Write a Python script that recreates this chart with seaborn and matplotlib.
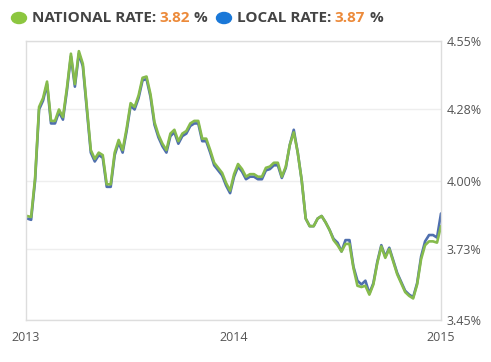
import pandas as pd
import numpy as np
import matplotlib.pyplot as plt
import matplotlib.dates as mdates
import seaborn as sns

sns.set_style("white")
plt.rcParams['font.family'] = ['Open Sans', 'DejaVu Sans']

# weekly rates, Jan 2013 - Jan 2015
national = [3.86, 3.856, 4.01, 4.29, 4.325, 4.39, 4.235, 4.235, 4.28, 4.25,
            4.365, 4.50, 4.38, 4.51, 4.46, 4.29, 4.12, 4.085, 4.11, 4.10,
            3.985, 3.985, 4.11, 4.16, 4.12, 4.205, 4.305, 4.29, 4.335, 4.405,
            4.41, 4.34, 4.23, 4.18, 4.145, 4.12, 4.185, 4.20, 4.155, 4.185,
            4.195, 4.225, 4.235, 4.235, 4.165, 4.165, 4.12, 4.07, 4.05, 4.03,
            3.99, 3.96, 4.025, 4.065, 4.045, 4.015, 4.025, 4.025, 4.015, 4.015,
            4.05, 4.055, 4.07, 4.07, 4.015, 4.055, 4.14, 4.19, 4.11, 4.00,
            3.85, 3.82, 3.82, 3.85, 3.86, 3.835, 3.805, 3.765, 3.745, 3.72,
            3.75, 3.75, 3.655, 3.585, 3.58, 3.585, 3.55, 3.59, 3.675, 3.74,
            3.695, 3.73, 3.68, 3.63, 3.595, 3.56, 3.545, 3.535, 3.59, 3.69,
            3.745, 3.76, 3.76, 3.755, 3.82]
local = [3.85, 3.845, 4.00, 4.28, 4.315, 4.38, 4.225, 4.225, 4.27, 4.24,
         4.355, 4.49, 4.37, 4.50, 4.45, 4.28, 4.11, 4.075, 4.10, 4.09,
         3.975, 3.975, 4.10, 4.15, 4.11, 4.195, 4.295, 4.28, 4.325, 4.395,
         4.40, 4.33, 4.22, 4.17, 4.135, 4.11, 4.175, 4.19, 4.145, 4.175,
         4.185, 4.215, 4.225, 4.225, 4.155, 4.155, 4.11, 4.06, 4.04, 4.02,
         3.98, 3.95, 4.015, 4.055, 4.035, 4.005, 4.015, 4.015, 4.005, 4.005,
         4.04, 4.045, 4.06, 4.06, 4.01, 4.05, 4.14, 4.20, 4.11, 4.00,
         3.85, 3.82, 3.82, 3.85, 3.86, 3.835, 3.805, 3.77, 3.755, 3.72,
         3.765, 3.765, 3.66, 3.605, 3.59, 3.605, 3.555, 3.595, 3.68, 3.745,
         3.70, 3.735, 3.685, 3.635, 3.60, 3.565, 3.55, 3.54, 3.595, 3.70,
         3.76, 3.785, 3.785, 3.775, 3.87]
dates = pd.date_range("2013-01-03", periods=len(national), freq="7D")

y_ticks = [3.45, 3.73, 4.00, 4.28, 4.55]
x_ticks = ["2013-01-01", "2014-01-01", "2015-01-01"]
x_labels = ["2013", "2014", "2015"]

df = pd.DataFrame({"date": dates, "national": national, "local": local})

W, H = 491, 362
fig = plt.figure(figsize=(W / 100, H / 100), dpi=100)
ax = fig.add_axes([26 / W, 1 - 320 / H, 415 / W, 279 / H])

sns.lineplot(data=df, x="date", y="local", ax=ax, color="#4f6fae", lw=1.9)
sns.lineplot(data=df, x="date", y="national", ax=ax, color="#86bb4c", lw=1.9)

ax.set_xlim(pd.Timestamp(x_ticks[0]), pd.Timestamp(x_ticks[-1]))
ax.set_ylim(y_ticks[0], y_ticks[-1])
ax.set_xticks([pd.Timestamp(t) for t in x_ticks])
ax.set_xticklabels(x_labels)
ax.set_yticks(y_ticks)
ax.set_yticklabels([f"{v:.2f}%" for v in y_ticks])
ax.yaxis.tick_right()
ax.tick_params(axis="y", length=0, pad=4, labelsize=9, labelcolor="#555555")
ax.tick_params(axis="x", length=0, pad=8, labelsize=9, labelcolor="#555555")
ax.set_xlabel("")
ax.set_ylabel("")
ax.grid(axis="y", color="#eeeeee", lw=1)
for s in ax.spines.values():
    s.set_color("#dddddd")
    s.set_linewidth(1)

# header legend
def px(x, y):
    return x / W, 1 - y / H

hy = 18
fig.patches.append(plt.Circle(px(19, hy), 7.5 / W, transform=fig.transFigure,
                              color="#8cc63f", zorder=5))
fig.text(*px(32, hy), "NATIONAL RATE:", fontsize=11, fontweight="bold",
         color="#444444", va="center")
fig.text(*px(159, hy), "3.82", fontsize=11, fontweight="bold",
         color="#ec8a3a", va="center")
fig.text(*px(194, hy), "%", fontsize=11, fontweight="bold",
         color="#444444", va="center")
fig.patches.append(plt.Circle(px(224, hy), 7.5 / W, transform=fig.transFigure,
                              color="#1a78d8", zorder=5))
fig.text(*px(237, hy), "LOCAL RATE:", fontsize=11, fontweight="bold",
         color="#444444", va="center")
fig.text(*px(334, hy), "3.87", fontsize=11, fontweight="bold",
         color="#ec8a3a", va="center")
fig.text(*px(369, hy), "%", fontsize=11, fontweight="bold",
         color="#444444", va="center")

plt.savefig("out.png", dpi=100)
